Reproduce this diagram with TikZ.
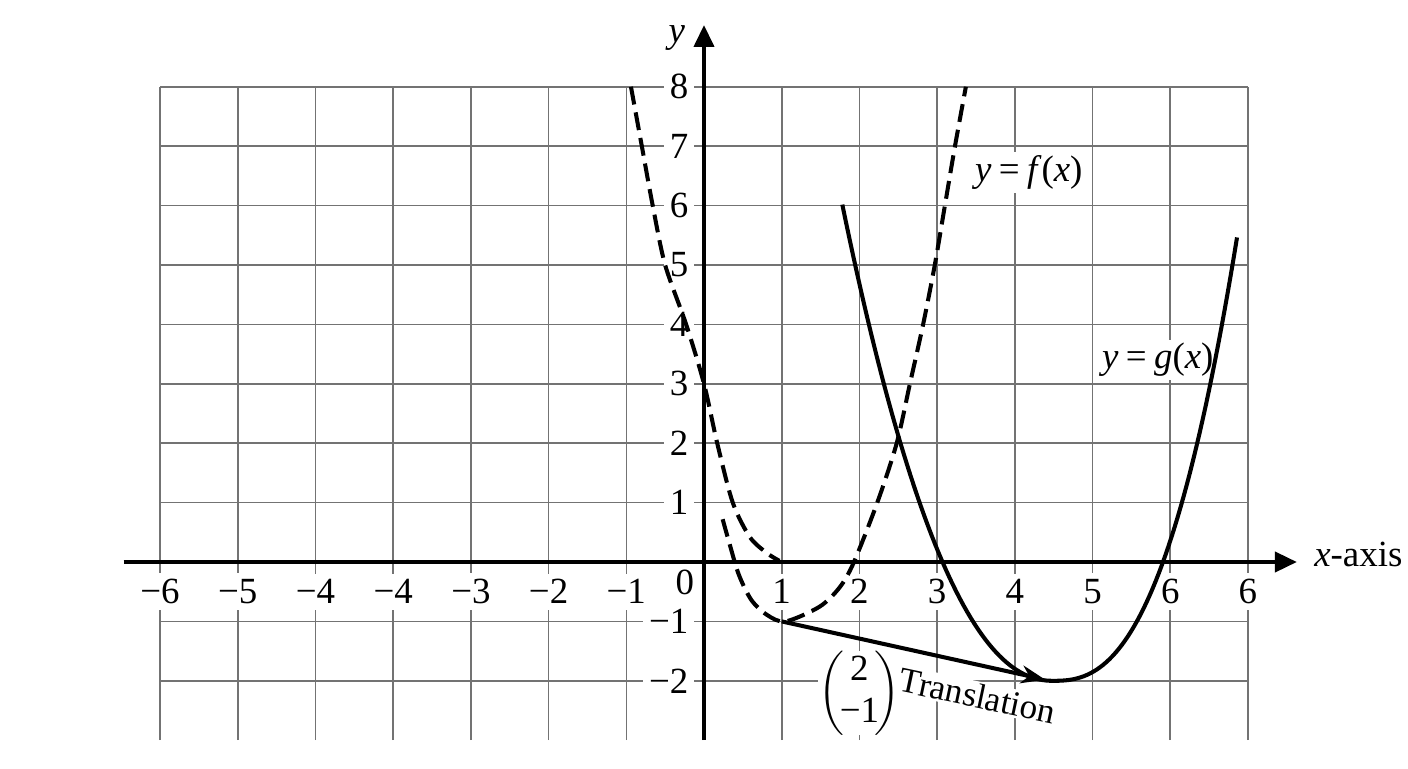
\documentclass[tikz,border=0pt]{standalone}
\usepackage{fontspec}
\setmainfont{Liberation Serif}
\usetikzlibrary{arrows.meta}

\begin{document}
\begin{tikzpicture}[
    x=0.777cm,
    y=0.594cm,
    gridline/.style={
        draw=black!55,
        line width=0.45pt
    },
    axisline/.style={
        line width=1.15pt,
        -{Triangle[length=2.2mm,width=2mm]}
    },
    numlab/.style={
        fill=white,
        inner sep=1.7pt,
        font=\fontsize{10.5}{12}\selectfont
    },
    curvelab/.style={
        fill=white,
        inner sep=1pt,
        font=\fontsize{10.5}{12}\selectfont
    },
    fcurve/.style={
        line width=1.15pt,
        dash pattern=on 1.8mm off 0.8mm
    },
    gcurve/.style={
        line width=1.15pt,
        line join=round
    },
    transarrow/.style={
        line width=1.15pt,
        -{Stealth[length=2.4mm,width=1.8mm]}
    }
]

\useasboundingbox (-9.06,-3.468) rectangle (9.06,9.461);

% Grid
\foreach \gx in {-7,...,7}
    \draw[gridline] (\gx,-3) -- (\gx,8);
\foreach \gy in {-2,...,8}
    \draw[gridline] (-7,\gy) -- (7,\gy);

% x labels
\node[numlab] (xm7) at (-7,-0.5) {−6};
\node[numlab] (xm6) at (-6,-0.5) {−5};
\node[numlab] (xm5) at (-5,-0.5) {−4};
\node[numlab] (xm4) at (-4,-0.5) {−4};
\node[numlab] (xm3) at (-3,-0.5) {−3};
\node[numlab] (xm2) at (-2,-0.5) {−2};
\node[numlab] (xm1) at (-1,-0.5) {−1};
\node[numlab] (x0) at (-0.245,-0.35) {0};
\node[numlab] (x1) at (1,-0.5) {1};
\node[numlab] (x2) at (2,-0.5) {2};
\node[numlab] (x3) at (3,-0.5) {3};
\node[numlab] (x4) at (4,-0.5) {4};
\node[numlab] (x5) at (5,-0.5) {5};
\node[numlab] (x6) at (6,-0.5) {6};
\node[numlab] (x7) at (7,-0.5) {6};

% y labels
\node[numlab, anchor=east] (y8) at (-0.115,8) {8};
\node[numlab, anchor=east] (y7) at (-0.115,7) {7};
\node[numlab, anchor=east] (y6) at (-0.115,6) {6};
\node[numlab, anchor=east] (y5) at (-0.115,5) {5};
\node[numlab, anchor=east] (y4) at (-0.115,4) {4};
\node[numlab, anchor=east] (y3) at (-0.115,3) {3};
\node[numlab, anchor=east] (y2) at (-0.115,2) {2};
\node[numlab, anchor=east] (y1) at (-0.115,1) {1};
\node[numlab, anchor=east] (ym1) at (-0.115,-1) {−1};
\node[numlab, anchor=east] (ym2) at (-0.115,-2) {−2};

% Curve labels
\node[curvelab] (flab) at (4.18,6.55) {\textit{y}\hspace{0.2em}=\hspace{0.2em}\textit{f}(\textit{x})};
\node[curvelab] (glab) at (5.84,3.4) {\textit{y}\hspace{0.2em}=\hspace{0.2em}\textit{g}(\textit{x})};
\node[numlab, inner sep=0pt] (vec) at (2.0,-2.21) {$\left(\mkern-2mu\begin{tabular}{@{}c@{}}\fontsize{10.5}{10.5}\selectfont 2\\\fontsize{10.5}{10.5}\selectfont −1\end{tabular}\mkern-2mu\right)$};
\node[numlab, font=\fontsize{10}{12}\selectfont, inner sep=0.5pt, rotate=-12] (trans) at (3.52,-2.25) {Translation};

% Axes
\coordinate (xstart) at (-7.47,0);
\coordinate (xend) at (7.63,0);
\coordinate (ystart) at (0,-3);
\coordinate (yend) at (0,9.04);
\draw[axisline] (xstart) -- (xend);
\draw[axisline] (ystart) -- (yend);
\node[curvelab, fill=none, anchor=base west] (xlab) at (7.8,-0.07) {\textit{x}-axis};
\node[curvelab, fill=none, anchor=base] (ylab) at (-0.35,8.75) {\textit{y}};

% Curves
\draw[fcurve] plot[smooth] coordinates {(-0.94,8) (-0.8,7) (-0.66,6) (-0.5,5) (-0.23,4) (0,3) (0.17,2) (0.37,1) (0.59,0.42) (0.81,0.15) (0.97,0.02)};
\draw[fcurve] plot[smooth] coordinates {(0.24,0.72) (0.33,0.3) (0.45,-0.22) (0.61,-0.64) (0.81,-0.89) (1.05,-1) (1.49,-0.75) (1.75,-0.42) (1.93,0) (2.23,1) (2.48,2) (2.65,3) (2.82,4) (2.97,5) (3.1,6) (3.23,7) (3.37,8)};
\draw[gcurve] plot[domain=1.78:4.489, samples=60] (\x,{-2+0.94*exp(2.15*ln(4.4901-\x))})
    -- plot[domain=4.491:6.86, samples=60] (\x,{-2+0.82*exp(2.56*ln(\x-4.4899))});

% Translation
\coordinate (fmin) at (1,-1);
\coordinate (gmin) at (4.39,-1.98);
\draw[transarrow] (fmin) -- (gmin);

\end{tikzpicture}
\end{document}
